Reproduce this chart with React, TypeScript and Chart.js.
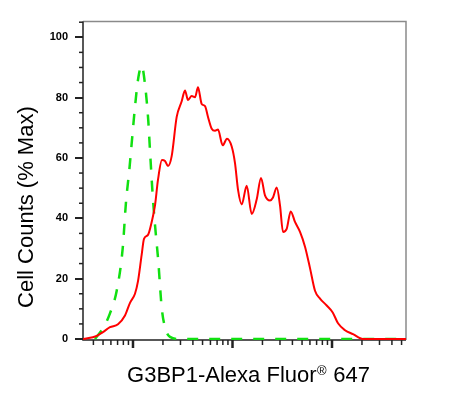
import React, { useEffect, useRef } from "react";
import { Chart, registerables } from "chart.js";

Chart.register(...registerables);

// Red histogram (G3BP1-Alexa Fluor 647)
const redX = [314, 431, 499, 587, 707, 831, 933, 1047, 1123, 1223, 1290, 1415, 1541, 1664, 1784, 1956, 2097, 2248, 2448, 2749, 3086, 3332, 3571, 3890, 4200, 4501, 4903, 5292, 5673, 6180, 6672, 7150, 7970, 8805, 9817, 10595, 11357, 12376, 13890, 15597, 17512, 19337, 21211, 23823, 25527, 27816, 30017, 32174, 35052, 38449, 42466, 47690, 53536, 60101, 67470, 75760, 88440, 101620, 114900, 135090, 162640, 204960, 554000];
const redY = [0, 1, 2.3, 3.9, 4.9, 7.8, 12, 15, 19.2, 28, 33.2, 34.5, 38.8, 44.3, 52.8, 59.3, 59, 57.3, 60.6, 73.6, 78.8, 82.4, 79.2, 80.5, 80.1, 83.4, 77.9, 77.2, 73.6, 69.7, 69, 69.4, 64.2, 66.4, 63.8, 58.3, 49.5, 44.6, 50.8, 41.4, 46.3, 53.4, 47.6, 45.9, 46.9, 50.2, 44.3, 35.5, 36.5, 42.3, 38.8, 35.5, 30.6, 23.5, 16, 13.4, 11.1, 8.8, 5.2, 2.9, 1.6, 0, 0];

// Green dashed histogram (isotype control)
const greenX = [415, 508, 587, 686, 788, 850, 918, 970, 1047, 1131, 1223, 1320, 1425, 1482, 1578, 1664, 1796, 1943, 2097, 2354, 2968, 554000];
const greenY = [0, 4, 8.5, 16, 30, 45.3, 56, 64.8, 76.9, 86.6, 90.6, 84.4, 72.3, 62.5, 47.6, 37.8, 25.7, 10.4, 3.9, 0.7, 0, 0];

// Axis ticks
const yMajorTicks = [0, 20, 40, 60, 80, 100];
const yMinorTicks = [5, 10, 15, 25, 30, 35, 45, 50, 55, 65, 70, 75, 85, 90, 95, 105];
const xMajorTicks = [1000, 10000, 100000];
const xMinorTicks = [400, 500, 600, 700, 800, 900, 2000, 3000, 4000, 5000, 6000, 7000, 8000, 9000, 20000, 30000, 40000, 50000, 60000, 70000, 80000, 90000, 200000, 300000, 400000, 500000];

const yTitle = "Cell Counts (% Max)";
const xTitleMain = "G3BP1-Alexa Fluor";
const xTitleSup = "®";
const xTitleEnd = " 647";

const FONT = '"Liberation Sans", Arial, sans-serif';

const axesPlugin = {
  id: "axesPlugin",
  beforeDatasetsDraw(chart: any) {
    const { ctx, chartArea } = chart;
    const xs = chart.scales.x;
    const ys = chart.scales.y;
    const { left, right, top, bottom } = chartArea;
    ctx.save();
    // top & right frame
    ctx.strokeStyle = "#8a8a8a";
    ctx.lineWidth = 1.5;
    ctx.beginPath();
    ctx.moveTo(left, top);
    ctx.lineTo(right, top);
    ctx.lineTo(right, bottom);
    ctx.stroke();
    // left & bottom axes
    ctx.strokeStyle = "#222";
    ctx.lineWidth = 1.5;
    ctx.beginPath();
    ctx.moveTo(left, top);
    ctx.lineTo(left, bottom);
    ctx.lineTo(right, bottom);
    ctx.stroke();
    // y ticks
    ctx.strokeStyle = "#222";
    ctx.lineWidth = 2;
    yMajorTicks.forEach((v) => {
      const p = Math.round(ys.getPixelForValue(v)) + 0.0;
      ctx.beginPath();
      ctx.moveTo(left - 8, p);
      ctx.lineTo(left, p);
      ctx.stroke();
    });
    ctx.lineWidth = 1.5;
    yMinorTicks.forEach((v) => {
      const p = ys.getPixelForValue(v);
      if (p < top - 1) return;
      ctx.beginPath();
      ctx.moveTo(left - 4, p);
      ctx.lineTo(left, p);
      ctx.stroke();
    });
    // x ticks
    ctx.lineWidth = 2.5;
    xMajorTicks.forEach((v) => {
      const p = xs.getPixelForValue(v);
      ctx.beginPath();
      ctx.moveTo(p, bottom);
      ctx.lineTo(p, bottom + 8);
      ctx.stroke();
    });
    ctx.lineWidth = 1.5;
    xMinorTicks.forEach((v) => {
      const p = xs.getPixelForValue(v);
      if (p > right + 1 || p < left - 1) return;
      ctx.beginPath();
      ctx.moveTo(p, bottom);
      ctx.lineTo(p, bottom + 5);
      ctx.stroke();
    });
    ctx.restore();
  },
};

const titlePlugin = {
  id: "titlePlugin",
  afterDraw(chart: any) {
    const { ctx, chartArea } = chart;
    ctx.save();
    ctx.fillStyle = "#000";
    // y title
    ctx.font = `22px ${FONT}`;
    ctx.textAlign = "center";
    ctx.textBaseline = "alphabetic";
    ctx.translate(chartArea.left - 50.5, chartArea.top + 185.5);
    ctx.rotate(-Math.PI / 2);
    ctx.fillText(yTitle, 0, 0);
    ctx.restore();

    ctx.save();
    ctx.fillStyle = "#000";
    ctx.textAlign = "left";
    ctx.textBaseline = "alphabetic";
    ctx.font = `22px ${FONT}`;
    const w1 = ctx.measureText(xTitleMain).width;
    const w3 = ctx.measureText(xTitleEnd).width;
    ctx.font = `13px ${FONT}`;
    const w2 = ctx.measureText(xTitleSup).width + 1;
    const total = w1 + w2 + w3;
    const cx = (chartArea.left + chartArea.right) / 2 + 4;
    const baseY = chartArea.bottom + 42;
    let x = cx - total / 2;
    ctx.font = `22px ${FONT}`;
    ctx.fillText(xTitleMain, x, baseY);
    x += w1;
    ctx.font = `13px ${FONT}`;
    ctx.fillText(xTitleSup, x + 0.5, baseY - 7);
    x += w2;
    ctx.font = `22px ${FONT}`;
    ctx.fillText(xTitleEnd, x, baseY);
    ctx.restore();
  },
};

export default function App() {
  const canvasRef = useRef<HTMLCanvasElement | null>(null);

  useEffect(() => {
    if (!canvasRef.current) return;
    const redData = redX.map((x, i) => ({ x, y: redY[i] }));
    const greenData = greenX.map((x, i) => ({ x, y: greenY[i] }));
    const chart = new Chart(canvasRef.current, {
      type: "line",
      data: {
        datasets: [
          {
            label: "G3BP1",
            data: redData,
            borderColor: "#ff0000",
            borderWidth: 2,
            pointRadius: 0,
            cubicInterpolationMode: "monotone",
            fill: false,
          },
          {
            label: "Isotype",
            data: greenData,
            borderColor: "#11e011",
            borderWidth: 2.5,
            borderDash: [11, 11],
            pointRadius: 0,
            cubicInterpolationMode: "monotone",
            fill: false,
          },
        ],
      },
      options: {
        animation: false,
        responsive: false,
        maintainAspectRatio: false,
        layout: { padding: { top: 16, right: 50, left: 0, bottom: 0 } },
        plugins: {
          legend: { display: false },
          tooltip: { enabled: false },
        },
        scales: {
          x: {
            type: "logarithmic",
            min: 314.5,
            max: 554000,
            position: "bottom",
            ticks: { display: false },
            grid: { display: false, drawTicks: false },
            border: { display: false },
            afterFit: (scale: any) => {
              scale.height = 53;
            },
          },
          y: {
            type: "linear",
            min: -0.33,
            max: 105.2,
            grid: { display: false, drawTicks: false },
            border: { display: false },
            ticks: {
              padding: 15,
              color: "#000",
              font: { family: FONT, size: 11, weight: "bold" },
            },
            afterBuildTicks: (scale: any) => {
              scale.ticks = yMajorTicks.map((v) => ({ value: v }));
            },
            afterFit: (scale: any) => {
              scale.width = 83;
            },
          },
        },
      },
      plugins: [axesPlugin, titlePlugin],
    });
    return () => chart.destroy();
  }, []);

  return (
    <div style={{ position: "fixed", left: 0, top: 0, width: 456, height: 393, background: "#fff" }}>
      <canvas ref={canvasRef} width={456} height={393} />
    </div>
  );
}
